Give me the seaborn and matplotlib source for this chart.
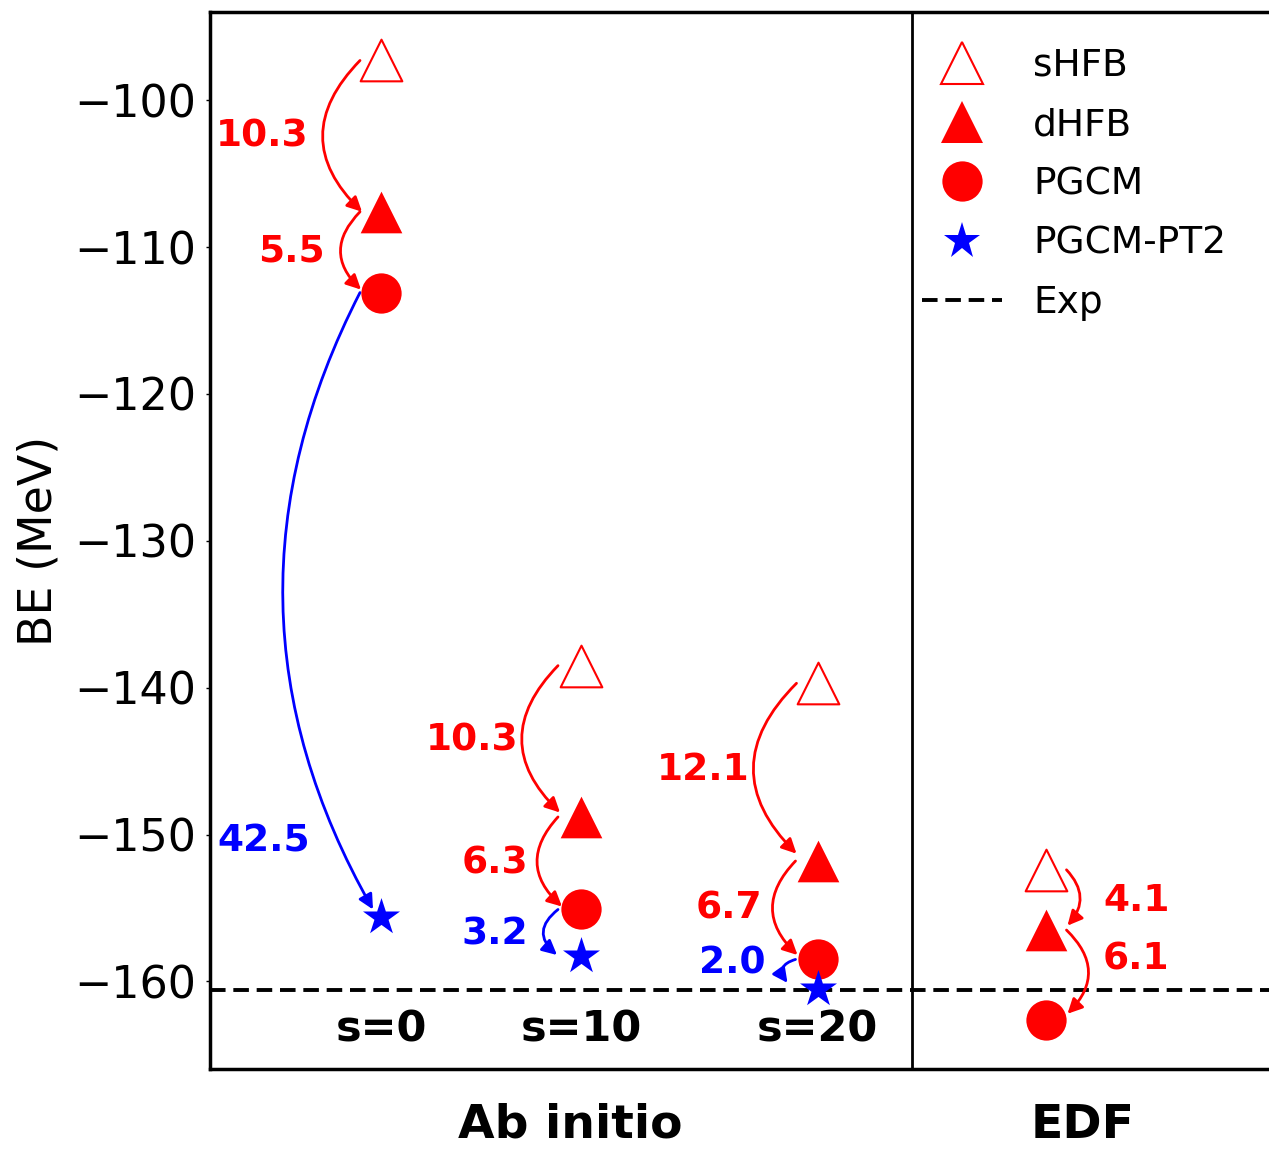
import numpy as np
import pandas as pd
import matplotlib
matplotlib.use('Agg')
import matplotlib.pyplot as plt
from matplotlib.lines import Line2D
import seaborn as sns

# Энергии связи (MeV) для трёх расчётов ab initio и EDF
cases = ['s=0', 's=10', 's=20', 'EDF']
x_pos = [1.71, 3.71, 6.075, 8.355]
be_shfb = [-97.3, -138.5, -139.7, -152.4]
be_dhfb = [-107.6, -148.8, -151.8, -156.5]
be_pgcm = [-113.1, -155.1, -158.5, -162.6]
be_pt2 = [-155.6, -158.3, -160.5, np.nan]  # для EDF нет PT2
be_exp = -160.6

group_names = ['Ab initio', 'EDF']
group_x = [3.6, 8.73]
divider_x = 7.02

# стрелки: (расчёт, откуда, куда, подпись)
steps = [
    (0, 'sHFB', 'dHFB', '10.3'),
    (0, 'dHFB', 'PGCM', '5.5'),
    (0, 'PGCM', 'PGCM-PT2', '42.5'),
    (1, 'sHFB', 'dHFB', '10.3'),
    (1, 'dHFB', 'PGCM', '6.3'),
    (1, 'PGCM', 'PGCM-PT2', '3.2'),
    (2, 'sHFB', 'dHFB', '12.1'),
    (2, 'dHFB', 'PGCM', '6.7'),
    (2, 'PGCM', 'PGCM-PT2', '2.0'),
    (3, 'sHFB', 'dHFB', '4.1'),
    (3, 'dHFB', 'PGCM', '6.1'),
]
# геометрия стрелок: dx начала, dx конца, dy конца, rad, dx подписи, y подписи
step_layout = [
    (-0.21, -0.19, 0.0, 0.5, -0.73, -102.5),
    (-0.21, -0.20, 0.2, 0.5, -0.56, -110.3),
    (-0.21, -0.08, 0.5, 0.27, -0.71, -150.5),
    (-0.23, -0.21, 0.3, 0.5, -0.63, -143.6),
    (-0.23, -0.19, 0.2, 0.5, -0.53, -152.0),
    (-0.23, -0.24, 0.1, 0.6, -0.53, -156.8),
    (-0.21, -0.21, 0.5, 0.5, -0.675, -145.6),
    (-0.22, -0.20, 0.3, 0.5, -0.555, -155.0),
    (-0.22, -0.30, 0.4, 0.7, -0.525, -158.8),
    (0.21, 0.22, 0.3, -0.45, 0.575, -154.5),
    (0.21, 0.22, 0.4, -0.5, 0.575, -158.5),
]

RED = '#ff0000'
BLUE = '#0000ff'

df = pd.DataFrame({
    'case': cases * 4,
    'x': x_pos * 4,
    'method': ['sHFB'] * 4 + ['dHFB'] * 4 + ['PGCM'] * 4 + ['PGCM-PT2'] * 4,
    'be': be_shfb + be_dhfb + be_pgcm + be_pt2,
}).dropna()

sns.set_style('white')
plt.rcParams['font.family'] = ['DejaVu Sans']
plt.rcParams.update({'text.color': 'black', 'axes.labelcolor': 'black',
                     'xtick.color': 'black', 'ytick.color': 'black'})

fig = plt.figure(figsize=(12.69, 11.53), dpi=100)
ax = fig.add_axes([210 / 1269, 84 / 1153, 1100 / 1269, 1057 / 1153])

# линия эксперимента и разделитель
ax.axhline(be_exp, color='k', lw=2.8, ls=(0, (4, 2)), zorder=1)
ax.axvline(divider_x, color='k', lw=2, zorder=1)

styles = {
    'sHFB': dict(marker='^', s=900, color='white', edgecolor=RED, linewidth=1.5),
    'dHFB': dict(marker='^', s=900, color=RED, edgecolor=RED, linewidth=0),
    'PGCM': dict(marker='o', s=841, color=RED, edgecolor=RED, linewidth=0),
    'PGCM-PT2': dict(marker='*', s=784, color=BLUE, edgecolor=BLUE, linewidth=0),
}
for m, kw in styles.items():
    sns.scatterplot(data=df[df['method'] == m], x='x', y='be', ax=ax,
                    legend=False, zorder=3, **kw)

lookup = df.set_index(['case', 'method'])['be']
for (ci, m_from, m_to, lab), (dx0, dx1, dy1, rad, ldx, ly) in zip(steps, step_layout):
    x = x_pos[ci]
    y0 = lookup[(cases[ci], m_from)]
    y1 = lookup[(cases[ci], m_to)]
    c = BLUE if m_to == 'PGCM-PT2' else RED
    ax.annotate('', xy=(x + dx1, y1 + dy1), xytext=(x + dx0, y0),
                arrowprops=dict(arrowstyle='-|>', color=c, lw=2,
                                connectionstyle=f'arc3,rad={rad}',
                                shrinkA=0, shrinkB=0, mutation_scale=22),
                zorder=2)
    ax.text(x + ldx, ly, lab, ha='right' if ldx < 0 else 'left', va='center',
            fontsize=27, fontweight='bold', color=c)

for ci in range(3):
    ax.text(x_pos[ci], -163.3, cases[ci], ha='center', va='center',
            fontsize=31, fontweight='bold')
for name, gx in zip(group_names, group_x):
    ax.text(gx, -169.8, name, ha='center', va='center', fontsize=34,
            fontweight='bold', clip_on=False)

ax.set_xlim(0, 11)
ax.set_ylim(-165.96, -94.0)
ax.set_xticks([])
ax.set_yticks(np.arange(-160, -99, 10))
ax.tick_params(axis='y', left=True, length=3, width=1, pad=7, labelsize=32)
ax.set_xlabel('')
ax.set_ylabel('BE (MeV)', fontsize=33)
ax.yaxis.set_label_coords(-0.135, 0.5)
for sp in ax.spines.values():
    sp.set_color('k')
    sp.set_linewidth(2.5)

handles = [
    Line2D([], [], marker='^', ls='none', ms=30, mfc='white', mec=RED, mew=1.5),
    Line2D([], [], marker='^', ls='none', ms=30, mfc=RED, mec=RED, mew=0),
    Line2D([], [], marker='o', ls='none', ms=29, mfc=RED, mec=RED, mew=0),
    Line2D([], [], marker='*', ls='none', ms=28, mfc=BLUE, mec=BLUE, mew=0),
    Line2D([], [], color='k', lw=2.8, ls=(0, (4, 2))),
]
ax.legend(handles, ['sHFB', 'dHFB', 'PGCM', 'PGCM-PT2', 'Exp'],
          loc='upper left', bbox_to_anchor=((922 - 210) / 1100, (1069 - 48) / 1057),
          frameon=False, fontsize=27, borderpad=0, borderaxespad=0,
          handlelength=2.13, handletextpad=0.83, labelspacing=0.62)

fig.savefig('out.png', dpi=100)
